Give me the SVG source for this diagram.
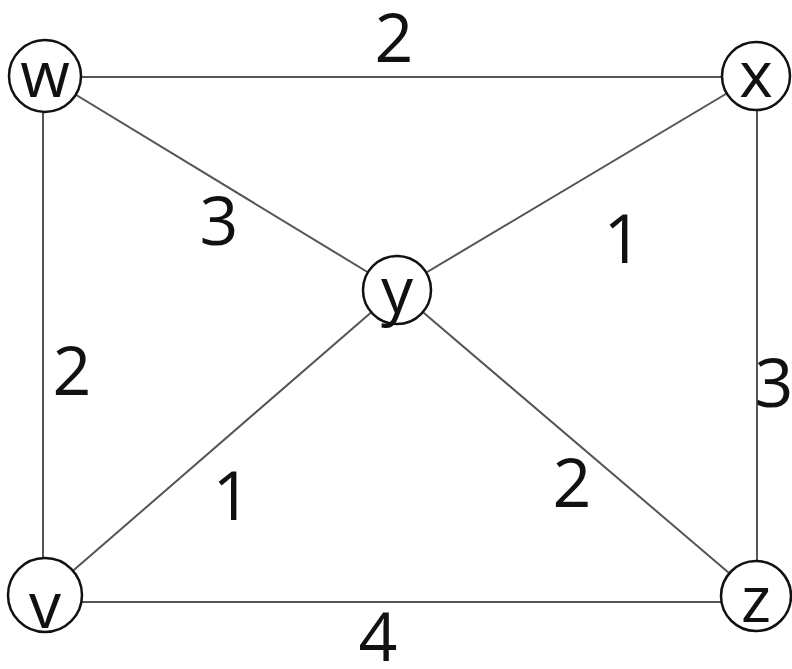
<svg xmlns="http://www.w3.org/2000/svg" width="792" height="669" viewBox="0 0 792 669">
<style>
.edge{stroke:#555;stroke-width:2;fill:none}
.node circle{fill:#fff;stroke:#111;stroke-width:2.5}
.node text{font-family:"Open Sans","Liberation Sans",sans-serif;font-size:64px;fill:#111;text-anchor:middle}
.lbl{font-family:"Open Sans","Liberation Sans",sans-serif;font-size:68px;fill:#111;text-anchor:middle}
</style>
<rect width="792" height="669" fill="#fff"/>
<g id="edges">
<line class="edge" x1="45" y1="77" x2="756" y2="77"/>
<line class="edge" x1="43" y1="77" x2="43" y2="600"/>
<line class="edge" x1="757" y1="77" x2="757" y2="596"/>
<line class="edge" x1="45" y1="602" x2="756" y2="602"/>
<line class="edge" x1="45" y1="76" x2="397" y2="290"/>
<line class="edge" x1="756" y1="76" x2="397" y2="290"/>
<line class="edge" x1="45" y1="595" x2="397" y2="290"/>
<line class="edge" x1="756" y1="596" x2="397" y2="290"/>
</g>
<g id="labels">
<text class="lbl" x="394" y="62">2</text>
<text class="lbl" x="219" y="245">3</text>
<text class="lbl" x="623" y="263">1</text>
<text class="lbl" x="72" y="395">2</text>
<text class="lbl" x="774" y="407">3</text>
<text class="lbl" x="232" y="520">1</text>
<text class="lbl" x="572" y="507">2</text>
<text class="lbl" x="378" y="661">4</text>
</g>
<g id="node-w" class="node"><circle cx="45" cy="76" r="36"/><text x="45" y="97">w</text></g>
<g id="node-x" class="node"><circle cx="756" cy="76" r="34"/><text x="756" y="97">x</text></g>
<g id="node-y" class="node"><circle cx="397" cy="290" r="34"/><text x="397" y="313">y</text></g>
<g id="node-v" class="node"><circle cx="45" cy="595" r="37"/><text x="45" y="628">v</text></g>
<g id="node-z" class="node"><circle cx="756" cy="596" r="35"/><text x="756" y="622">z</text></g>
</svg>
